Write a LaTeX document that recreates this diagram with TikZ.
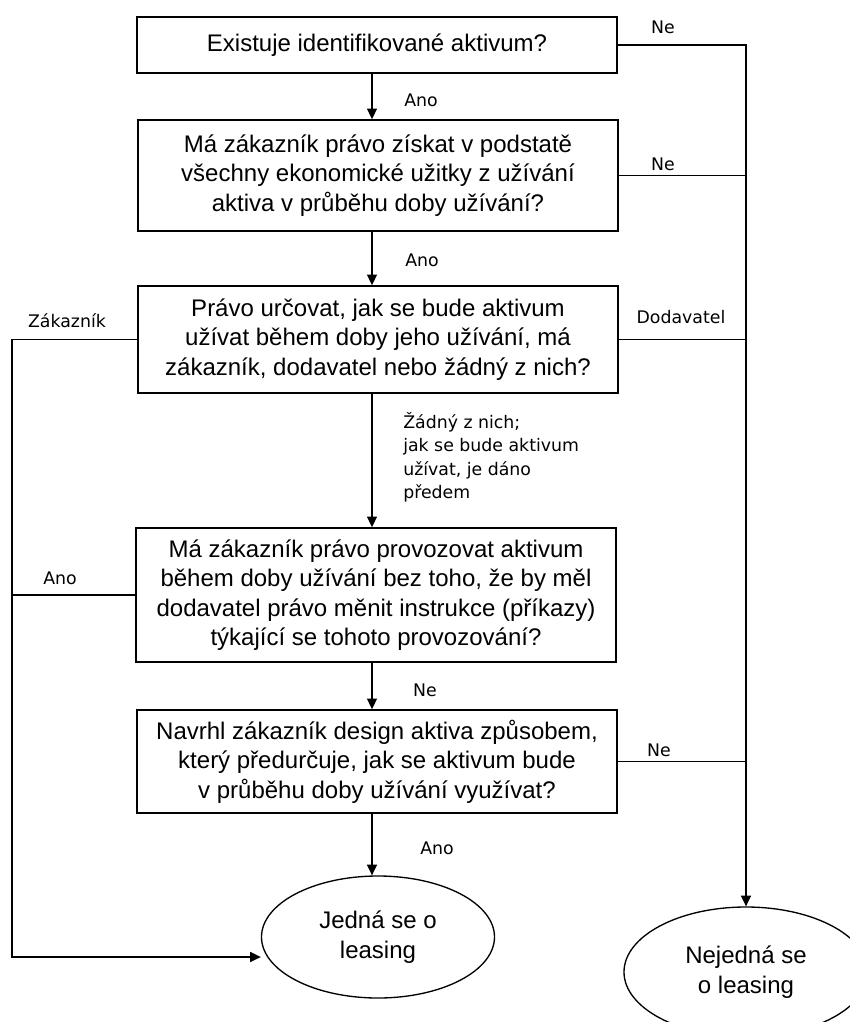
\documentclass[tikz,border=0pt]{standalone}
\usepackage{fontspec}
\setmainfont{Liberation Sans}
\newfontfamily\lblfont{DejaVu Sans}
\usepackage{tikz}
\usetikzlibrary{arrows.meta,positioning,calc,shapes.geometric}

\begin{document}
\begin{tikzpicture}[
  x=0.75pt,y=-0.75pt,
  font=\fontsize{18pt}{22pt}\selectfont,
  arr/.style={-{Triangle[length=8pt,width=7.5pt]}},
  line/.style={line width=1pt},
  qbox/.style={draw,line width=1.2pt,minimum width=360pt,align=center,inner sep=2pt},
  oval/.style={draw,ellipse,line width=1pt,align=center,inner sep=0pt},
  lbl/.style={font=\lblfont\fontsize{13pt}{17.5pt}\selectfont,inner sep=0pt,align=left},
]
\useasboundingbox (0,0) rectangle (850,1022);
\clip (0,0) rectangle (850,1022);
% questions
\node[qbox,minimum height=42pt] (q1) at (377,45) {Existuje identifikované aktivum?};
\node[qbox,minimum height=83.25pt] (q2) at (378,175.5) {Má zákazník právo získat v podstatě\\všechny ekonomické užitky z užívání\\aktiva v průběhu doby užívání?};
\node[qbox,minimum height=80.25pt] (q3) at (378,339.5) {Právo určovat, jak se bude aktivum\\užívat během doby jeho užívání, má\\zákazník, dodavatel nebo žádný z nich?};
\node[qbox,minimum height=100.5pt] (q4) at (376,595) {Má zákazník právo provozovat aktivum\\během doby užívání bez toho, že by měl\\dodavatel právo měnit instrukce (příkazy)\\týkající se tohoto provozování?};
\node[qbox,minimum height=77.25pt] (q5) at (377,761.5) {Navrhl zákazník design aktiva způsobem,\\který předurčuje, jak se aktivum bude\\v průběhu doby užívání využívat?};
% results
\node[oval,minimum width=174.75pt,minimum height=91.5pt] (yes) at (378,937) {Jedná se o\\leasing};
\node[oval,minimum width=183pt,minimum height=97.5pt] (no) at (746,972) {Nejedná se\\o leasing};
% helper coordinates
\coordinate (ax) at (372,0);
\coordinate (rv) at (746,0);
\coordinate (lc) at (12,957);
% main axis
\draw[line,arr] (q1.south -| ax) -- (q2.north -| ax);
\draw[line,arr] (q2.south -| ax) -- (q3.north -| ax);
\draw[line,arr] (q3.south -| ax) -- (q4.north -| ax);
\draw[line,arr] (q4.south -| ax) -- (q5.north -| ax);
\draw[line,arr] (q5.south -| ax) -- (ax |- yes.north);
% right side
\draw[line,arr] (q1.east) -- (q1.east -| rv) -- (no.north);
\draw[line] (q2.east) -- (q2.east -| rv);
\draw[line] (q3.east) -- (q3.east -| rv);
\draw[line] (q5.east) -- (q5.east -| rv);
% left side
\draw[line,arr] (q3.west) -- (q3.west -| lc) -- (lc) -- (lc -| yes.west);
\draw[line] (q4.west) -- (q4.west -| lc);
% labels
\node[lbl] (l1) at (421,100) {Ano};
\node[lbl] (l2) at (663,27) {Ne};
\node[lbl] (l3) at (663,164) {Ne};
\node[lbl] (l4) at (422,260) {Ano};
\node[lbl] (l5) at (67,321) {Zákazník};
\node[lbl] (l6) at (681,317) {Dodavatel};
\node[lbl,anchor=north west] (l7) at (403,412) {Žádný z nich;\\jak se bude aktivum\\užívat, je dáno\\předem};
\node[lbl] (l8) at (60,578) {Ano};
\node[lbl] (l9) at (425,690) {Ne};
\node[lbl] (l10) at (659,750) {Ne};
\node[lbl] (l11) at (437,848) {Ano};
\end{tikzpicture}
\end{document}
